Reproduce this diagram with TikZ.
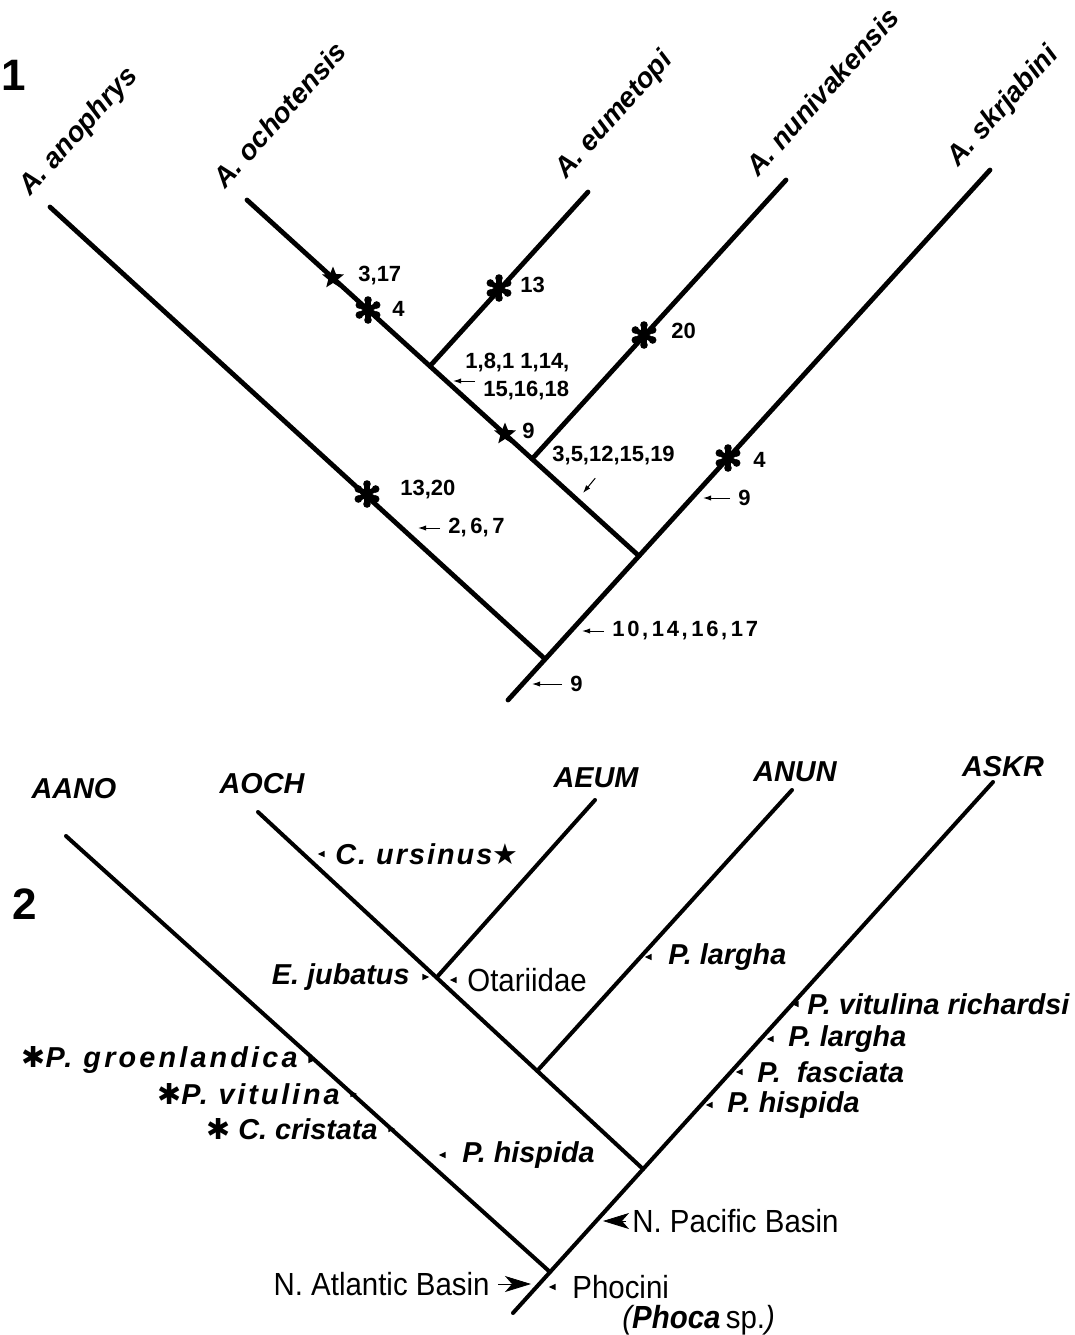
\documentclass[tikz,border=0pt]{standalone}
\usepackage{fontspec}
\setmainfont{Liberation Sans}
\newfontfamily\narrowfont[FakeStretch=0.92]{Liberation Sans}
\newfontfamily\symfont{DejaVu Sans}
\usetikzlibrary{arrows.meta, positioning, shapes.geometric, calc}

\newcommand{\taxfont}{\fontsize{14.4}{16}\selectfont\bfseries\itshape}
\newcommand{\rotfont}{\fontsize{14}{16}\selectfont\bfseries\itshape}
\newcommand{\numfont}{\fontsize{11}{12.5}\selectfont\bfseries}
\newcommand{\geofont}{\fontsize{16}{18}\narrowfont}
\newcommand{\figfont}{\fontsize{22}{24}\selectfont\bfseries}
\newcommand{\symb}[1]{{\fontseries{m}\fontshape{n}\symfont #1}}

\begin{document}
\begin{tikzpicture}[
  x=0.5pt, y=-0.5pt,
  branch/.style={line width=2.4pt, line cap=round},
  branchb/.style={line width=2pt, line cap=round},
  fignum/.style={font=\figfont, inner sep=0pt},
  taxon/.style={font=\rotfont, rotate=48, anchor=base west, inner sep=0pt},
  taxonb/.style={font=\taxfont, inner sep=0pt},
  num/.style={font=\numfont, anchor=west, inner sep=0pt},
  numarr/.style={-{Latex[length=4pt, width=2.6pt]}, line width=0.5pt, shorten <=4pt},
  mstar/.style={star, star points=5, star point ratio=2.3, fill, inner sep=0pt, minimum size=11.5pt},
  host/.style={font=\taxfont, inner sep=0pt},
  geo/.style={font=\geofont, inner sep=0pt},
  ptrl/.style={isosceles triangle, isosceles triangle stretches, fill, inner sep=0pt,
               minimum width=3.2pt, minimum height=3.4pt, shape border rotate=180},
  ptrr/.style={ptrl, shape border rotate=0},
  bigptr/.style={-{Stealth[length=13pt, width=8pt, inset=3.5pt]}, line width=0.4pt},
  asterisk/.pic={
    \foreach \a in {90,30,150}{
      \draw[line width=2.6pt, line cap=round] (\a:10) -- (\a+180:10);
      \fill (\a:10) circle (1.9pt) (\a+180:10) circle (1.9pt);
    }
  }
]
\useasboundingbox (0,0) rectangle (1075,1335);

% ---- figure 1: characters ----
\coordinate (r1) at (508,700);
\coordinate (n1a) at (545,659);
\coordinate (n1b) at (639,556);
\coordinate (n1c) at (532,459);
\coordinate (n1d) at (430,366);
\coordinate (anoph) at (50,207);
\coordinate (ochot) at (247,200);
\coordinate (eumet) at (588,192);
\coordinate (nuniv) at (786,180);
\coordinate (skrja) at (990,170);

\draw[branch] (r1) -- (skrja);
\draw[branch] (n1a) -- (anoph);
\draw[branch] (n1b) -- (ochot);
\draw[branch] (n1c) -- (nuniv);
\draw[branch] (n1d) -- (eumet);

\node[fignum] (fig1) at (14,75) {1};
\node[taxon] (anophL) at ([shift={(-20,-10)}]anoph) {A. anophrys};
\node[taxon] (ochotL) at ([shift={(-22,-10)}]ochot) {A. ochotensis};
\node[taxon] (eumetL) at ([shift={(-22,-12)}]eumet) {A. eumetopi};
\node[taxon] (nunivL) at ([shift={(-28,-2)}]nuniv) {A. nunivakensis};
\node[taxon] (skrjaL) at ([shift={(-32,-2)}]skrja) {A. skrjabini};

\node[mstar] (s317) at (333,278) {};
\pic at (368,310) {asterisk};
\pic at (499,288) {asterisk};
\pic at (644,335) {asterisk};
\node[mstar] (s9) at (505,434) {};
\pic at (367,494) {asterisk};
\pic at (728,458) {asterisk};

\node[num] (l317) at (358,276) {3,17};
\node[num] (l4a) at (392,309) {4};
\node[num] (l13) at (520,285) {13};
\node[num] (l20) at (671,331) {20};
\node[num] (l18a) at (465,363) {1,8,1 1,14,};
\node[num] (l18b) at (483,391) {15,16,18};
\node[num] (l9a) at (522,431) {9};
\node[num] (l35) at (552,456) {3,5,12,15,19};
\node[num] (l1320) at (400,490) {13,20};
\node[num] (l267) at (448,528) {2,\,6,\,7};
\node[num] (l4b) at (753,460) {4};
\node[num] (l9b) at (738,498) {9};
\node[num] (l10) at (612,631) {\addfontfeature{LetterSpace=12}10,\,14,\,16,\,17};
\node[num] (l9c) at (570,684) {9};

\coordinate (p18) at (453,381);
\coordinate (p35) at (583,493);
\coordinate (p267) at (418,528);
\coordinate (p9b) at (703,498);
\coordinate (p10) at (582,631);
\coordinate (p9c) at (532,684);
\draw[numarr] ([yshift=5pt]l18b.west) -- (p18);
\draw[numarr, shorten <=8pt] (l35) -- (p35);
\draw[numarr] (l267) -- (p267);
\draw[numarr] (l9b) -- (p9b);
\draw[numarr] (l10) -- (p10);
\draw[numarr] (l9c) -- (p9c);

% ---- figure 2: hosts and basins ----
\coordinate (r2) at (513,1313);
\coordinate (n2a) at (550,1272);
\coordinate (n2b) at (643,1169);
\coordinate (n2c) at (437,977);
\coordinate (n2d) at (538,1070);
\coordinate (aano) at (66,836);
\coordinate (aoch) at (258,812);
\coordinate (aeum) at (595,800);
\coordinate (anun) at (792,790);
\coordinate (askr) at (993,782);

\draw[branchb] (r2) -- (askr);
\draw[branchb] (n2a) -- (aano);
\draw[branchb] (n2b) -- (aoch);
\draw[branchb] (n2c) -- (aeum);
\draw[branchb] (n2d) -- (anun);

\node[fignum] (fig2) at (25,904) {2};
\node[taxonb] (aanoL) at (74,789) {AANO};
\node[taxonb] (aochL) at (262,784) {AOCH};
\node[taxonb] (aeumL) at (596,778) {AEUM};
\node[taxonb] (anunL) at (795,772) {ANUN};
\node[taxonb] (askrL) at (1003,767) {ASKR};

\node[host, anchor=west] (ursin) at (335,854) {\addfontfeature{LetterSpace=7}C. ursinus\symb{★}};
\node[ptrl, left=5pt of ursin] (ursinP) {};
\node[host, anchor=east] (jubat) at (410,977) {E. jubatus};
\node[ptrr, right=6pt of jubat] (jubatP) {};
\node[geo, anchor=west] (otar) at (467,980) {Otariidae};
\node[ptrl, left=5pt of otar] (otarP) {};
\node[host, anchor=west] (larg1) at (668,957) {P. largha};
\node[ptrl, left=8pt of larg1] (larg1P) {};
\node[host, anchor=west] (richa) at (807,1004) {P. vitulina richardsi};
\node[ptrl, left=4pt of richa] (richaP) {};
\node[host, anchor=west] (larg2) at (788,1039) {P. largha};
\node[ptrl, left=7pt of larg2] (larg2P) {};
\node[host, anchor=west] (fasci) at (757,1072) {P.\ \ fasciata};
\node[ptrl, left=7pt of fasci] (fasciP) {};
\node[host, anchor=west] (hisp1) at (727,1105) {P. hispida};
\node[ptrl, left=7pt of hisp1] (hisp1P) {};
\node[host, anchor=east] (groen) at (298,1060) {\symb{✱}\addfontfeature{LetterSpace=11}P. groenlandica};
\node[ptrr, right=5pt of groen] (groenP) {};
\node[host, anchor=east] (vitul) at (340,1094) {\symb{✱}\addfontfeature{LetterSpace=10}P. vitulina};
\node[ptrr, right=5pt of vitul] (vitulP) {};
\node[host, anchor=east] (crist) at (378,1129) {\symb{✱} C. cristata};
\node[ptrr, right=5pt of crist] (cristP) {};
\node[host, anchor=west] (hisp2) at (462,1155) {P. hispida};
\node[ptrl, left=8pt of hisp2] (hisp2P) {};

\node[geo, anchor=west] (npac) at (632,1221) {N. Pacific Basin};
\coordinate (npacT) at (603,1221);
\draw[bigptr, shorten <=3pt] (npac) -- (npacT);
\node[geo, anchor=east] (natl) at (490,1284) {N. Atlantic Basin};
\coordinate (natlT) at (531,1284);
\draw[bigptr, shorten <=4pt] (natl) -- (natlT);
\node[geo, anchor=west] (phoc) at (572,1287) {Phocini};
\node[ptrl, left=8pt of phoc] (phocP) {};
\node[geo, anchor=west] (phsp) at (622,1320) {{\itshape(}{\bfseries\itshape Phoca}\,sp.{\itshape)}};
\end{tikzpicture}
\end{document}
